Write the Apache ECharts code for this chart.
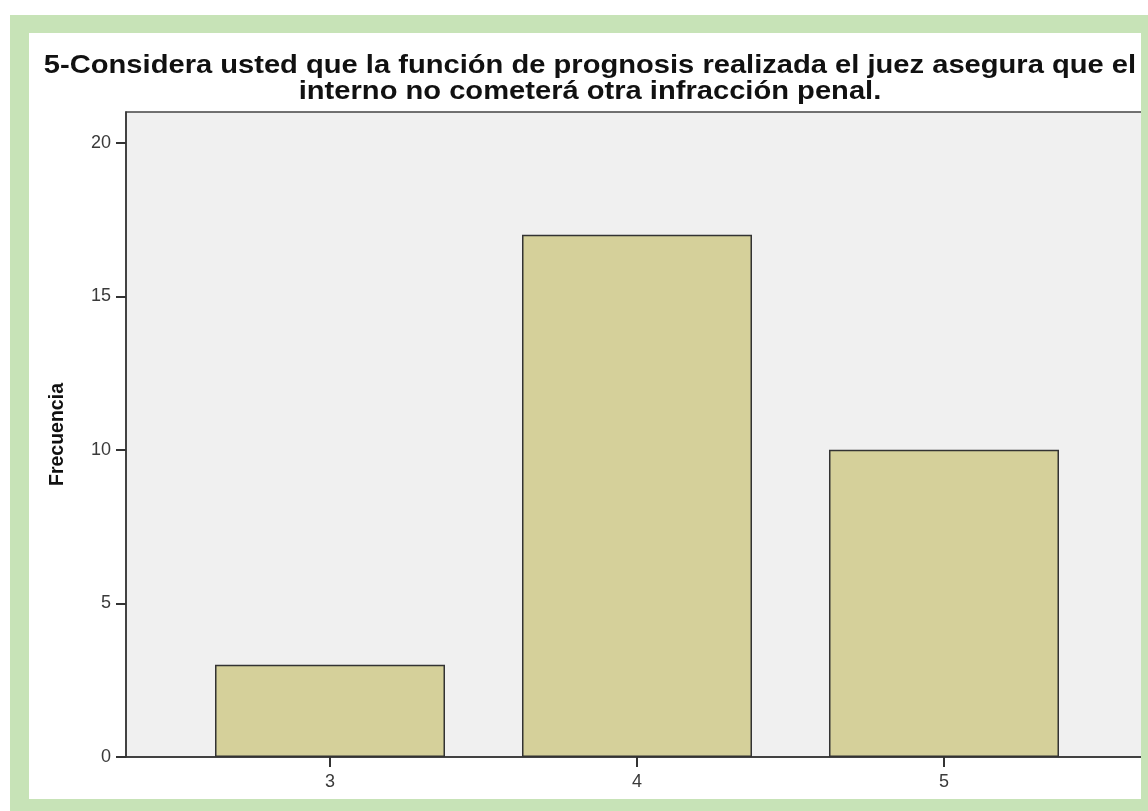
<!DOCTYPE html>
<html style="height: 100%">
<head>
<meta charset="utf-8">
</head>
<body style="height: 100%; margin: 0; background: #fff">
<div id="container" style="width: 1148px; height: 811px"></div>
<script src="https://cdn.jsdelivr.net/npm/echarts@6/dist/echarts.min.js"></script>
<script type="text/javascript">
var titleLines = ['5-Considera usted que la función de prognosis realizada el juez asegura que el', 'interno no cometerá otra infracción penal.'];
var categories = [3, 4, 5];
var frecuencia = [3, 17, 10];
var yTicks = [0, 5, 10, 15, 20];

var chart = echarts.init(document.getElementById('container'));
var green = '#c7e3b7';
// SPSS title looks horizontally stretched, so draw it as graphic text with scaleX
function titleText(str, y) {
    return {
        type: 'text', x: 590, y: y, scaleX: 1.12,
        style: {
            text: str,
            textAlign: 'center',
            textVerticalAlign: 'middle',
            font: 'bold 26px "Liberation Sans"',
            fill: '#111'
        }
    };
}
var option = {
    backgroundColor: '#fff',
    animation: false,
    grid: {
        left: 126,
        top: 112,
        right: 0,
        bottom: 54,
        show: true,
        backgroundColor: '#f0f0f0',
        borderColor: '#444',
        borderWidth: 1.5
    },
    xAxis: {
        type: 'value',
        min: 2.3355,
        max: 5.6645,
        splitLine: { show: false },
        axisLine: { lineStyle: { color: '#333', width: 1.5 } },
        axisTick: { customValues: categories, length: 10, lineStyle: { color: '#333', width: 2 } },
        axisLabel: {
            customValues: categories,
            color: '#3a3a3a',
            fontFamily: 'Liberation Sans',
            fontSize: 18,
            margin: 16
        }
    },
    yAxis: {
        type: 'value',
        min: 0,
        max: 21,
        name: 'Frecuencia',
        nameLocation: 'middle',
        nameGap: 58,
        nameTextStyle: {
            fontFamily: 'Liberation Sans',
            fontWeight: 'bold',
            fontSize: 19.5,
            color: '#111'
        },
        splitLine: { show: false },
        axisLine: { show: true, lineStyle: { color: '#333', width: 1.5 } },
        axisTick: { show: true, customValues: yTicks, length: 10, lineStyle: { color: '#333', width: 2 } },
        axisLabel: {
            customValues: yTicks,
            color: '#3a3a3a',
            fontFamily: 'Liberation Sans',
            fontSize: 18,
            margin: 15
        }
    },
    series: [{
        type: 'bar',
        barWidth: 230,
        data: categories.map(function (c, i) { return [c, frecuencia[i]]; }),
        itemStyle: {
            color: '#d5d09a',
            borderColor: '#333',
            borderWidth: 1.5
        }
    }],
    graphic: [
        titleText(titleLines[0], 66),
        titleText(titleLines[1], 92),
        { type: 'rect', z: 100, shape: { x: 10, y: 15, width: 19, height: 796 }, style: { fill: green } },
        { type: 'rect', z: 100, shape: { x: 10, y: 15, width: 1138, height: 18 }, style: { fill: green } },
        { type: 'rect', z: 100, shape: { x: 1141, y: 15, width: 7, height: 796 }, style: { fill: green } },
        { type: 'rect', z: 100, shape: { x: 10, y: 799, width: 1138, height: 12 }, style: { fill: green } }
    ]
};
chart.setOption(option);
</script>
</body>
</html>
